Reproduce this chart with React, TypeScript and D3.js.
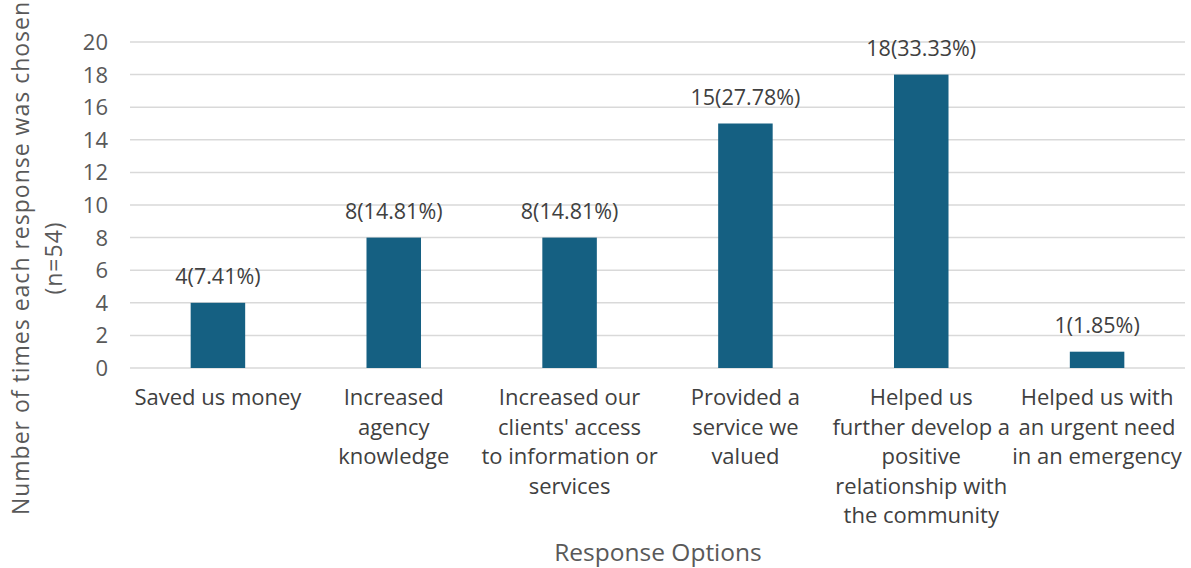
import React from "react";
import * as d3 from "d3";

const categories = [
  "Saved us money",
  "Increased agency knowledge",
  "Increased our clients' access to information or services",
  "Provided a service we valued",
  "Helped us further develop a positive relationship with the community",
  "Helped us with an urgent need in an emergency",
];
const categoryLines = [
  ["Saved us money"],
  ["Increased", "agency", "knowledge"],
  ["Increased our", "clients' access", "to information or", "services"],
  ["Provided a", "service we", "valued"],
  ["Helped us", "further develop a", "positive", "relationship with", "the community"],
  ["Helped us with", "an urgent need", "in an emergency"],
];
const counts = [4, 8, 8, 15, 18, 1];
const percents = ["7.41%", "14.81%", "14.81%", "27.78%", "33.33%", "1.85%"];
const yTicks = [0, 2, 4, 6, 8, 10, 12, 14, 16, 18, 20];
const yTitle = ["Number of times each response was chosen", "(n=54)"];
const xTitle = "Response Options";

const W = 1191;
const H = 568;
const FONT = "'Open Sans', sans-serif";

export default function App() {
  const left = 130, right = 1185, top = 42, bottom = 368;
  const x = d3.scaleBand().domain(categories).range([left, right]).paddingInner(0.69).paddingOuter(0.345);
  const y = d3.scaleLinear().domain([0, 20]).range([bottom, top]);
  return (
    <svg width={W} height={H} style={{ position: "absolute", left: 0, top: 0, background: "#fff" }} fontFamily={FONT}>
      {yTicks.map((t) => (
        <g key={t}>
          <line x1={left} x2={right} y1={y(t)} y2={y(t)} stroke="#d9d9d9" strokeWidth={1.5} />
          <text x={108} y={y(t)} dy="0.36em" textAnchor="end" fontSize={22} fill="#595959">{t}</text>
        </g>
      ))}
      {categories.map((c, i) => {
        const bx = x(c)!;
        const bw = x.bandwidth();
        const cx = bx + bw / 2;
        return (
          <g key={c}>
            <rect x={bx} y={y(counts[i])} width={bw} height={y(0) - y(counts[i])} fill="#156082" />
            <text x={cx} y={y(counts[i]) - 19} textAnchor="middle" fontSize={21.5} fill="#404040">
              {counts[i]}({percents[i]})
            </text>
            {categoryLines[i].map((ln, j) => (
              <text key={j} x={cx} y={405 + j * 29.5} textAnchor="middle" fontSize={22} fill="#404040">{ln}</text>
            ))}
          </g>
        );
      })}
      <text x={658} y={561} textAnchor="middle" fontSize={24.5} fill="#595959">{xTitle}</text>
      <text transform={`translate(29,258) rotate(-90)`} textAnchor="middle" fontSize={23} letterSpacing={1} fill="#595959">{yTitle[0]}</text>
      <text transform={`translate(62,258) rotate(-90)`} textAnchor="middle" fontSize={23} letterSpacing={1} fill="#595959">{yTitle[1]}</text>
    </svg>
  );
}
